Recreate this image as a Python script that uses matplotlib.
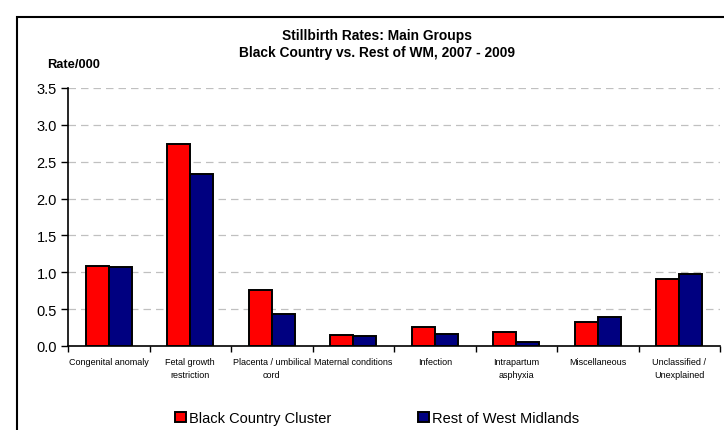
import numpy as np
import matplotlib.pyplot as plt
from matplotlib.patches import Rectangle

# data
categories = ['Congenital anomaly', 'Fetal growth\nrestriction', 'Placenta / umbilical\ncord',
              'Maternal conditions', 'Infection', 'Intrapartum\nasphyxia',
              'Miscellaneous', 'Unclassified /\nUnexplained']
black_country = [1.09, 2.74, 0.76, 0.15, 0.26, 0.19, 0.33, 0.91]
rest_wm = [1.07, 2.33, 0.44, 0.14, 0.16, 0.05, 0.39, 0.97]
series_names = ['Black Country Cluster', 'Rest of West Midlands']
yticks = [0.0, 0.5, 1.0, 1.5, 2.0, 2.5, 3.0, 3.5]

plt.rcParams['font.family'] = ['Liberation Sans', 'DejaVu Sans']

fig = plt.figure(figsize=(7.24, 4.31), dpi=100)
ax = fig.add_axes([68/724, 1-347/431, (720-68)/724, (347-89)/431])

x = np.arange(len(categories))
w = 0.282
b1 = ax.bar(x - w/2, black_country, w, color='#ff0000', edgecolor='black', lw=1.4,
            label=series_names[0], zorder=3)
b2 = ax.bar(x + w/2, rest_wm, w, color='#000080', edgecolor='black', lw=1.4,
            label=series_names[1], zorder=3)

ax.set_xlim(-0.5, len(categories) - 0.5)
ax.set_ylim(0, 3.5)
ax.set_yticks(yticks)
ax.set_yticklabels(['%.1f' % v for v in yticks], fontsize=10.5)
ax.yaxis.grid(True, ls=(0, (6, 4)), color='#c0c0c0', lw=0.9, zorder=0)

# category labels in the middle, tick marks on the boundaries
ax.set_xticks(x)
ax.set_xticklabels(categories, fontsize=6.5, linespacing=1.6)
ax.tick_params(axis='x', which='major', length=0, pad=8)
ax.set_xticks(np.arange(-0.5, len(categories)), minor=True)
ax.tick_params(axis='x', which='minor', length=4, direction='out', width=1)
ax.tick_params(axis='y', length=5, width=1, direction='out', pad=3)

for s in ['top', 'right']:
    ax.spines[s].set_visible(False)
for s in ['left', 'bottom']:
    ax.spines[s].set_linewidth(1.2)

fig.text(377/724, 1-36/431, 'Stillbirth Rates: Main Groups', ha='center', va='center',
         fontsize=9.9, fontweight='bold')
fig.text(377/724, 1-53/431, 'Black Country vs. Rest of WM, 2007 - 2009', ha='center',
         va='center', fontsize=9.9, fontweight='bold')
fig.text(47/724, 1-65/431, 'Rate/000', ha='left', va='center', fontsize=9.3, fontweight='bold')

# legend
fig.legend(handles=[b1, b2], labels=series_names, loc='center', ncol=2,
           bbox_to_anchor=(377/724, 1-419/431), frameon=False, fontsize=10.5,
           handlelength=0.75, handleheight=0.75, handletextpad=0.25, columnspacing=5.9)

# outer chart border (cropped on right and bottom)
fig.patches.append(Rectangle((17/724, -0.1), 1.2, 1-18/431+0.1, transform=fig.transFigure,
                             fill=False, ec='black', lw=1.5))

fig.savefig('out.png', dpi=100)
